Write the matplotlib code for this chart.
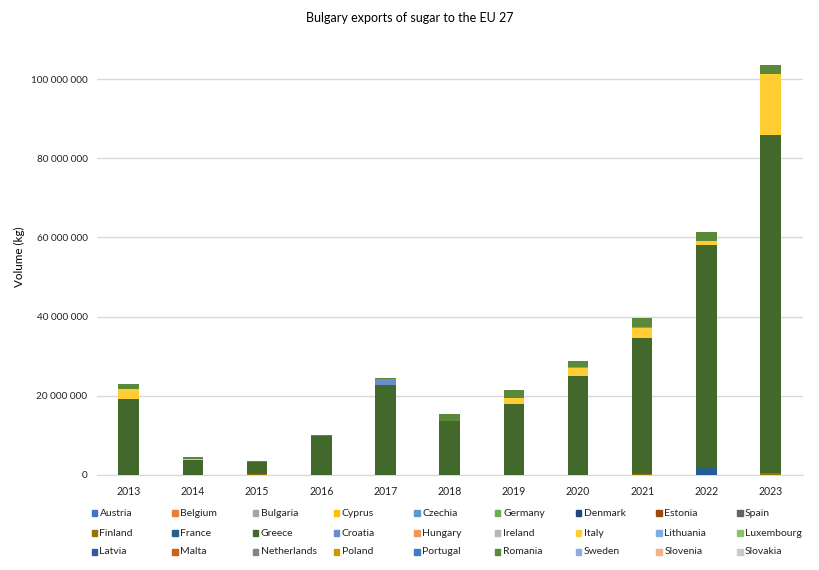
import numpy as np
import matplotlib
matplotlib.use("Agg")
import matplotlib.pyplot as plt
from matplotlib.patches import Rectangle
from matplotlib.ticker import FuncFormatter, MultipleLocator

plt.rcParams["font.family"] = ["Lato", "DejaVu Sans"]

years = ["2013", "2014", "2015", "2016", "2017", "2018", "2019", "2020", "2021", "2022", "2023"]

countries = ["Austria", "Belgium", "Bulgaria", "Cyprus", "Czechia", "Germany", "Denmark",
             "Estonia", "Spain", "Finland", "France", "Greece", "Croatia", "Hungary",
             "Ireland", "Italy", "Lithuania", "Luxembourg", "Latvia", "Malta", "Netherlands",
             "Poland", "Portugal", "Romania", "Sweden", "Slovenia", "Slovakia"]

colors = ["#4472C4", "#ED7D31", "#A5A5A5", "#FFC000", "#5B9BD5", "#70AD47", "#264478",
          "#9E480E", "#636363", "#997300", "#255E91", "#43682B", "#698ED0", "#F1975A",
          "#B7B7B7", "#FFCD33", "#7CAFDD", "#8CC168", "#335AA1", "#D26012", "#848484",
          "#CC9A00", "#3C7DC4", "#5A8A39", "#8FAADC", "#F4B183", "#C9C9C9"]

# volumes in million kg
finland = [0, 0, 0.3, 0, 0, 0, 0, 0, 0.3, 0, 0.5]
france = [0, 0, 0, 0, 0, 0, 0, 0, 0, 1.85, 0]
greece = [19.3, 3.9, 2.9, 9.8, 22.7, 13.7, 18.0, 25.1, 34.4, 56.2, 85.5]
croatia = [0, 0, 0, 0, 1.45, 0, 0, 0, 0, 0, 0]
italy = [2.3, 0.2, 0, 0, 0, 0, 1.45, 1.85, 2.5, 1.1, 15.4]
poland = [0, 0, 0, 0, 0, 0, 0, 0.3, 0.3, 0, 0]
romania = [1.4, 0.4, 0.3, 0.3, 0.4, 1.6, 2.0, 1.5, 2.1, 2.3, 2.1]

data = {c: np.zeros(len(years)) for c in countries}
data["Finland"] = np.array(finland)
data["France"] = np.array(france)
data["Greece"] = np.array(greece)
data["Croatia"] = np.array(croatia)
data["Italy"] = np.array(italy)
data["Poland"] = np.array(poland)
data["Romania"] = np.array(romania)

W, H = 819, 570
fig = plt.figure(figsize=(W / 100, H / 100), dpi=100)
ax = fig.add_axes([0.118, 0.1667, 0.862, 0.764])

x = np.arange(len(years))
bottom = np.zeros(len(years))
for c, col in zip(countries, colors):
    v = data[c] * 1e6
    ax.bar(x, v, 0.32, bottom=bottom, color=col, zorder=3)
    bottom += v

ax.set_xlim(-0.5, len(years) - 0.5)
ax.set_ylim(0, 110e6)
ax.yaxis.set_major_locator(MultipleLocator(20e6))
ax.yaxis.set_major_formatter(FuncFormatter(lambda v, p: f"{int(v):,}".replace(",", " ")))
ax.set_xticks(x)
ax.set_xticklabels(years)
ax.grid(axis="y", color="#d9d9d9", lw=1, zorder=0)
for s in ["top", "right", "left"]:
    ax.spines[s].set_visible(False)
ax.spines["bottom"].set_color("#d9d9d9")
ax.tick_params(axis="both", length=0, labelsize=7.2, colors="#222222")
ax.tick_params(axis="x", pad=8, labelsize=7.6)
ax.tick_params(axis="y", pad=6.5)
ax.set_ylabel("Volume (kg)", fontsize=8.4, labelpad=4)

fig.text(0.5, 0.968, "Bulgary exports of sugar to the EU 27", ha="center", va="center", fontsize=9)

# legend laid out like Excel: 9 entries per row, filled row by row
ncol = 9
x0, dx = 91.5, 80.7
row_y = [513, 533, 552]
sq = 5.5
for i, (c, col) in enumerate(zip(countries, colors)):
    r, k = divmod(i, ncol)
    px = x0 + k * dx
    py = row_y[r]
    fig.patches.append(Rectangle((px / W, 1 - (py + sq / 2) / H), sq / W, sq / H,
                                 transform=fig.transFigure, color=col))
    fig.text((px + sq + 2.5) / W, 1 - py / H, c, ha="left", va="center",
             fontsize=7.5, color="#222222")

fig.savefig("out.png", dpi=100)
